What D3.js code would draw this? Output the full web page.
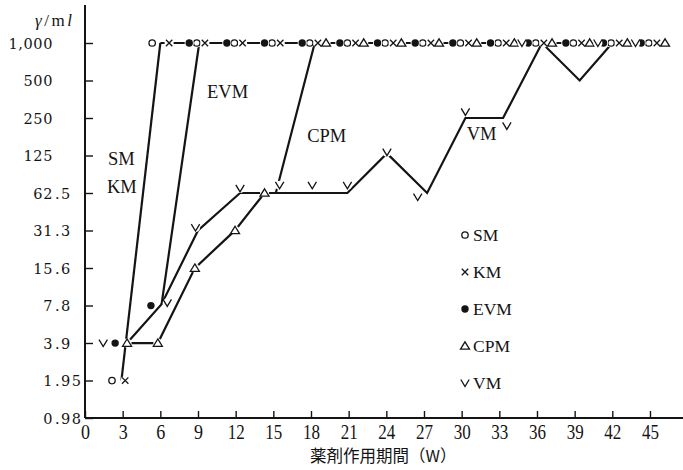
<!DOCTYPE html>
<html><head><meta charset="utf-8">
<script src="https://cdn.jsdelivr.net/npm/d3@7"></script>
<style>body{margin:0;background:#fff}svg{display:block}</style>
</head><body>
<svg id="chart" width="683" height="470"></svg>
<script>
// ---------------- data ----------------
const xTicks = [0,3,6,9,12,15,18,21,24,27,30,33,36,39,42,45];
const yTickValues = [1000,500,250,125,62.5,31.25,15.625,7.8125,3.90625,1.953125,0.9765625];
const yTickLabels = ["1,000","500","250","125","62.5","31.3","15.6","7.8","3.9","1.95","0.98"];
const xTitle = "薬剤作用期間（W）";

const seriesNames = ["SM","KM","EVM","CPM","VM"];

// plotted marker positions (weeks, as drawn) and values (γ/ml)
const smWeeks  = [2.15,5.35,8.9,11.9,14.9,17.9,20.9,23.9,26.9,29.9,32.9,35.9,38.9,41.9,44.9];
const smValues = [1.95,1000,1000,1000,1000,1000,1000,1000,1000,1000,1000,1000,1000,1000,1000];

const kmWeeks  = [3.2,6.7,9.55,12.55,15.55,18.55,21.55,24.55,27.55,30.55,33.55,36.55,39.55,42.55,45.55];
const kmValues = [1.95,1000,1000,1000,1000,1000,1000,1000,1000,1000,1000,1000,1000,1000,1000];

const evmWeeks  = [2.4,5.25,8.3,11.3,14.3,17.3,20.3,23.3,26.3,29.3,32.3,35.3,38.3,41.3,44.3];
const evmValues = [3.9,7.8,1000,1000,1000,1000,1000,1000,1000,1000,1000,1000,1000,1000,1000];

const cpmWeeks  = [3.35,5.8,8.75,11.95,14.3,19.2,22.2,25.2,28.2,31.2,34.2,37.2,40.2,43.2,46.2];
const cpmValues = [3.9,3.9,15.6,31.3,62.5,1000,1000,1000,1000,1000,1000,1000,1000,1000,1000];

const vmWeeks  = [1.45,6.55,8.8,12.35,15.5,18.1,20.9,24.05,26.5,30.3,33.6,34.8,40.85,43.85];
const vmValues = [3.9,8.2,33,68,72,72,72,133,58,280,216,1000,1000,1000];

// connecting lines as drawn
const smkmLineWeeks  = [2.9,6.0];
const smkmLineValues = [1.95,1000];
const evmLineWeeks   = [6.1,9.1];
const evmLineValues  = [8.0,1000];
const cpmLineWeeks   = [3.35,5.8,8.75,11.95,14.3,15.2,18.3];
const cpmLineValues  = [3.9,3.9,15.6,31.3,62.5,62.5,1000];
const vmLineWeeks    = [3.35,6.1,9.0,12.35,20.9,24.05,27.25,30.3,33.3,36.4,39.4,42.0];
const vmLineValues   = [3.9,8.0,31.3,62.5,62.5,130,62.5,250,250,1000,500,1000];
const topLineWeeks   = [6.0,45.0];
const topLineValues  = [1000,1000];

// in-plot labels (text, week, value)
const noteTexts  = ["SM","KM","EVM","CPM","VM"];
const noteWeeks  = [1.83,1.75,9.72,17.7,30.4];
const noteValues = [105,62.5,362,160,167];

// ---------------- chart ----------------
const ink = "#141414";
const svg = d3.select("#chart");
svg.append("rect").attr("width",683).attr("height",470).attr("fill","#fff");

const x = d3.scaleLinear().domain([0,47.63]).range([85,683]);
const y = d3.scaleLog().base(2).domain([0.9765625,1000]).range([418,43]);

// y axis
const yAxis = svg.append("g")
  .attr("transform",`translate(${x(0)},0)`)
  .call(d3.axisLeft(y).tickValues(yTickValues).tickSizeInner(-8).tickSizeOuter(0)
        .tickFormat((d,i)=>yTickLabels[i]));
yAxis.select(".domain").remove();
yAxis.selectAll(".tick line").attr("stroke",ink).attr("stroke-width",1.4);
yAxis.attr("font-family","'DejaVu Serif', serif").attr("font-size",14.5);
yAxis.selectAll(".tick text").each(function(d,i){
  const lab = yTickLabels[i];
  const parts = lab.split(".");
  const t = d3.select(this);
  t.attr("x",-32).attr("text-anchor","end").attr("fill",ink).attr("dy","0.36em")
   .attr("letter-spacing",0.6).text(parts[0]);
  if (parts.length>1){
    d3.select(this.parentNode).append("text")
      .attr("x",-30).attr("dy","0.36em").attr("text-anchor","start")
      .attr("letter-spacing",1.4)
      .attr("fill",ink).text("."+parts[1]);
  }
});
svg.append("line").attr("x1",x(0)).attr("x2",x(0)).attr("y1",5).attr("y2",y.range()[0])
  .attr("stroke",ink).attr("stroke-width",2);

// x axis
const xAxis = svg.append("g")
  .attr("transform",`translate(0,${y.range()[0]})`)
  .call(d3.axisBottom(x).tickValues(xTicks).tickSizeInner(-7).tickSizeOuter(0).tickFormat(d3.format("d")));
xAxis.select(".domain").remove();
xAxis.selectAll(".tick line").attr("stroke",ink).attr("stroke-width",1.4);
xAxis.attr("font-family","'Liberation Serif', serif").attr("font-size",21);
xAxis.selectAll(".tick text").attr("y",21).attr("dy",0).attr("fill",ink)
  .attr("textLength",function(d){return String(d).length>1?17:9;})
  .attr("lengthAdjust","spacingAndGlyphs");
svg.append("line").attr("x1",x(0)).attr("x2",683).attr("y1",y.range()[0]).attr("y2",y.range()[0])
  .attr("stroke",ink).attr("stroke-width",2);

// axis titles
svg.append("text").attr("x",310).attr("y",462)
  .attr("font-family","'Noto Sans CJK JP', sans-serif").attr("font-size",16.5).attr("fill",ink)
  .text(xTitle);
const yt = svg.append("text").attr("x",35).attr("y",26)
  .attr("font-family","'Liberation Serif', serif").attr("font-size",17).attr("fill",ink)
  .attr("letter-spacing",2.5);
yt.append("tspan").attr("font-style","italic").text("γ");
yt.append("tspan").text("/m");
yt.append("tspan").attr("font-style","italic").text("l");

// lines
const line = d3.line().x(d=>x(d[0])).y(d=>y(d[1])).curve(d3.curveLinear);
const lineSets = [
  [smkmLineWeeks,smkmLineValues],
  [evmLineWeeks,evmLineValues],
  [cpmLineWeeks,cpmLineValues],
  [vmLineWeeks,vmLineValues],
  [topLineWeeks,topLineValues]
];
svg.append("g").selectAll("path").data(lineSets).join("path")
  .attr("d",s=>line(s[0].map((w,i)=>[w,s[1][i]])))
  .attr("fill","none").attr("stroke",ink).attr("stroke-width",2.2).attr("stroke-linejoin","miter");

// markers
const markerType = {SM:"circle",KM:"cross",EVM:"dot",CPM:"triangle",VM:"vee"};
function drawMarker(g,type,cx,cy,knock){
  const m = g.append("g").attr("transform",`translate(${cx},${cy})`);
  if (knock) m.append("circle").attr("r",4.6).attr("fill","#fff");
  if (type==="circle") m.append("circle").attr("r",3.2).attr("fill","#fff").attr("stroke",ink).attr("stroke-width",1.3);
  if (type==="dot") m.append("circle").attr("r",3.7).attr("fill",ink);
  if (type==="cross") m.append("path").attr("d","M-3.2,-3.2L3.2,3.2M-3.2,3.2L3.2,-3.2").attr("stroke",ink).attr("stroke-width",1.3);
  if (type==="triangle") m.append("path").attr("d","M0,-4.2L4.5,3.2L-4.5,3.2Z").attr("fill","#fff").attr("stroke",ink).attr("stroke-width",1.3);
  if (type==="vee") m.append("path").attr("d","M-4.2,-3.5L0,3.5L4.2,-3.5").attr("fill","none").attr("stroke",ink).attr("stroke-width",1.3);
}
const markerSets = {
  SM:[smWeeks,smValues], KM:[kmWeeks,kmValues], EVM:[evmWeeks,evmValues],
  CPM:[cpmWeeks,cpmValues], VM:[vmWeeks,vmValues]
};
const mg = svg.append("g");
seriesNames.forEach(name=>{
  const [ws,vs] = markerSets[name];
  ws.forEach((w,i)=>drawMarker(mg,markerType[name],x(w),y(vs[i]),true));
});

// in-plot labels
svg.append("g").selectAll("text").data(noteTexts).join("text")
  .attr("x",(d,i)=>x(noteWeeks[i])).attr("y",(d,i)=>y(noteValues[i]))
  .attr("font-family","'Liberation Serif', serif").attr("font-size",18.5).attr("fill",ink)
  .text(d=>d);

// legend
const lg = svg.append("g").attr("transform","translate(465,235)");
seriesNames.forEach((name,i)=>{
  const gy = i*37;
  drawMarker(lg,markerType[name],0,gy,false);
  lg.append("text").attr("x",8).attr("y",gy+6)
    .attr("font-family","'Liberation Serif', serif").attr("font-size",17.5).attr("fill",ink)
    .text(name);
});
</script>
</body></html>
